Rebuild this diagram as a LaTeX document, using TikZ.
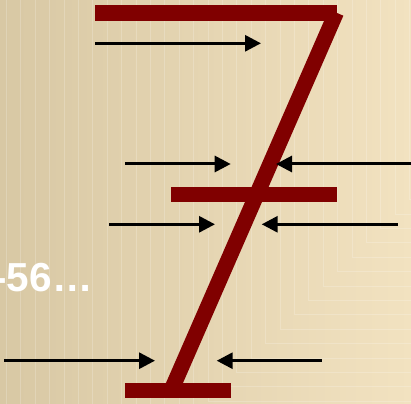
\documentclass[tikz,border=0pt]{standalone}
\usepackage{fontspec}
\newfontfamily\labelfont{Liberation Sans}
\usetikzlibrary{arrows.meta}
\definecolor{bgL}{HTML}{D8C8A4}
\definecolor{bgR}{HTML}{F2E2C0}
\definecolor{sevenred}{HTML}{800000}
\begin{document}
\begin{tikzpicture}[x=1pt,y=-1pt,
  bar/.style={fill=sevenred},
  pointer/.style={line width=3pt,-{Triangle[length=16pt,width=16pt]}},
  bgline/.style={white,opacity=0.2,line width=0.8pt}]
\useasboundingbox (0,0) rectangle (411,403);
\shade[left color=bgL,right color=bgR] (0,0) rectangle (411,403);
\begin{scope}
\clip (0,0) rectangle (411,403);
\foreach \k in {0,...,28}{
  \pgfmathsetmacro\xk{409.6-14.4*\k}
  \pgfmathsetmacro\yk{199.6+14.4*\k}
  \draw[bgline] (\xk,0) -- (\xk,\yk) -- (411,\yk);
}
\end{scope}
% the seven
\fill[bar] (95,5) rectangle (337,21);
\fill[bar] (170.7,186.7) rectangle (336.7,202.3);
\fill[bar] (125,383.3) rectangle (230.7,398.3);
\draw[sevenred,line width=15.6pt] (336.2,12.6) -- (171.4,390);
% text
\node[anchor=base west,inner sep=0pt,text=white,font=\labelfont\bfseries\fontsize{40.5}{48}\selectfont] (num) at (-6.7,291.7) {-56…};
% arrow end points
\coordinate (a1s) at (95,43.3);   \coordinate (a1e) at (261,43.3);
\coordinate (a2s) at (125,164);   \coordinate (a2e) at (230.7,164);
\coordinate (a3s) at (411,164);   \coordinate (a3e) at (276,164);
\coordinate (a4s) at (109,224.3); \coordinate (a4e) at (215,224.3);
\coordinate (a5s) at (397.7,224.3); \coordinate (a5e) at (261.7,224.3);
\coordinate (a6s) at (4,360.7);   \coordinate (a6e) at (155,360.7);
\coordinate (a7s) at (321.7,360.7); \coordinate (a7e) at (216.7,360.7);
\foreach \i in {1,...,7}{ \draw[pointer] (a\i s) -- (a\i e); }
\end{tikzpicture}
\end{document}
